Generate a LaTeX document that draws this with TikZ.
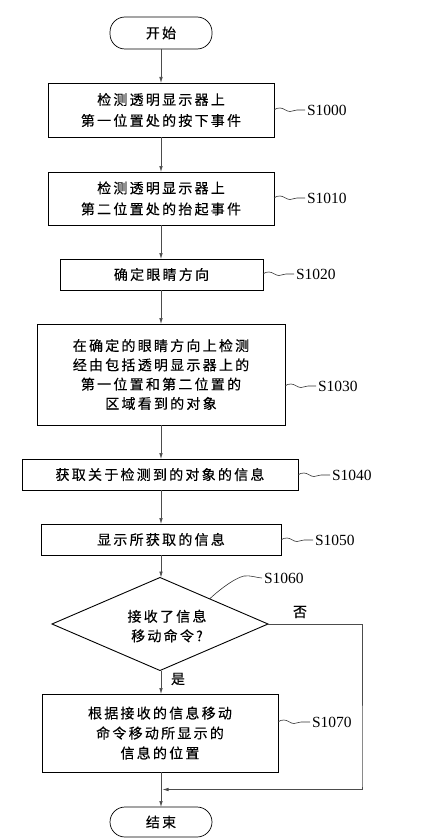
\documentclass[tikz,border=0pt]{standalone}
\usepackage{fontspec}
\setmainfont{Liberation Serif}
\newfontfamily\cjk[LetterSpace=16,FakeBold=0.3]{Noto Sans CJK SC}
\usetikzlibrary{shapes.geometric,arrows.meta,calc}
\begin{document}
\begin{tikzpicture}[x=1pt,y=-1pt,
  every node/.style={inner sep=0pt,outer sep=0pt},
  stepbox/.style={draw=black,line width=0.9pt,align=center,font=\cjk\fontsize{14}{21}\selectfont},
  term/.style={draw=black,line width=0.7pt,rounded corners=15pt,minimum width=102pt,font=\cjk\fontsize{14}{20}\selectfont},
  lbl/.style={anchor=west,font=\fontsize{15.5}{16}\selectfont},
  conn/.style={draw=black!70,line width=0.6pt,-{Latex[length=6pt,width=3.5pt]}},
  lead/.style={draw=black!80,line width=0.6pt}
]
\useasboundingbox (0,0) rectangle (437,840);
\node[term,minimum height=32pt] (st) at (161,33) {开始};
\node[stepbox,minimum width=226pt,minimum height=54pt] (b1) at (161,110) {检测透明显示器上\\第一位置处的按下事件};
\node[stepbox,minimum width=226pt,minimum height=53pt] (b2) at (161,198.5) {检测透明显示器上\\第二位置处的抬起事件};
\node[stepbox,minimum width=203pt,minimum height=31pt] (b3) at (161.5,274.5) {确定眼睛方向};
\node[stepbox,minimum width=248pt,minimum height=101pt,font=\cjk\fontsize{14}{19.3}\selectfont] (b4) at (161,374.5) {在确定的眼睛方向上检测\\经由包括透明显示器上的\\第一位置和第二位置的\\区域看到的对象};
\node[stepbox,minimum width=276pt,minimum height=31pt] (b5) at (160,474.5) {获取关于检测到的对象的信息};
\node[stepbox,minimum width=240pt,minimum height=31pt] (b6) at (161,539.5) {显示所获取的信息};
\node[diamond,draw=black,line width=0.9pt,minimum width=216pt,minimum height=93pt] (dia) at (160,624) {};
\node[align=center,font=\cjk\fontsize{14}{19.5}\selectfont] (diat) at (167,626) {接收了信息\\移动命令?};
\node[stepbox,minimum width=236pt,minimum height=78pt,font=\cjk\fontsize{14}{20}\selectfont] (b7) at (160,733) {根据接收的信息移动\\命令移动所显示的\\信息的位置};
\node[term,minimum height=30pt] (en) at (161,822) {结束};

\node[lbl] (l1) at (307,110) {S1000};
\node[lbl] (l2) at (307,198) {S1010};
\node[lbl] (l3) at (296,274) {S1020};
\node[lbl] (l4) at (318,386) {S1030};
\node[lbl] (l5) at (332,475) {S1040};
\node[lbl] (l6) at (315,540) {S1050};
\node[lbl] (l7) at (264,578) {S1060};
\node[lbl] (l8) at (312,722) {S1070};

\node[font=\cjk\fontsize{14}{15}\selectfont] (no) at (300,612) {否};
\node[font=\cjk\fontsize{14}{15}\selectfont] (yes) at (178,679) {是};

% connectors
\draw[conn] (st.south) -- (b1.north);
\draw[conn] (b1.south) -- (b2.north);
\draw[conn] (b2.south) -- (b3.north-|b2.south);
\draw[conn] (b3.south-|b2.south) -- (b4.north);
\draw[conn] (b4.south) -- (b5.north-|b4.south);
\draw[conn] (b5.south-|b4.south) -- (b6.north);
\draw[conn] (b6.south) -- (dia.north-|b6.south);
\draw[conn] (dia.south-|b6.south) -- (b7.north-|b6.south);
\draw[conn] (b7.south-|b6.south) -- (en.north);
\coordinate (c1) at (362,624);
\coordinate (c2) at (362,785);
\coordinate (mj) at ($(b7.south-|b6.south)!0.5!(en.north)$);
\draw[conn] (dia.east) -- (c1) -- (c2) -- (mj-|c2) -- ([xshift=1.5pt]mj);

% leaders
\foreach \b/\l in {b1/l1,b2/l2,b3/l3,b4/l4,b5/l5,b6/l6,b7/l8}{
  \draw[lead] (\b.east|-\l.west) .. controls +(2,-1.5) and +(-3,0) .. ++(6,-2) .. controls +(4,0) and +(-4,0) .. ++(10,3.5) .. controls +(3,0) and +(-3,0) .. ++(7,-1.5) -- ([xshift=-2pt]\l.west);
}
\coordinate (d7) at ($(dia.north)!0.46!(dia.east)$);
\draw[lead] (d7) .. controls +(6,-6) and +(-10,2) .. ($(l7.west)+(-20,-2)$) .. controls +(6,-1) and +(-4,0) .. ([xshift=-2pt]l7.west);
\end{tikzpicture}
\end{document}
